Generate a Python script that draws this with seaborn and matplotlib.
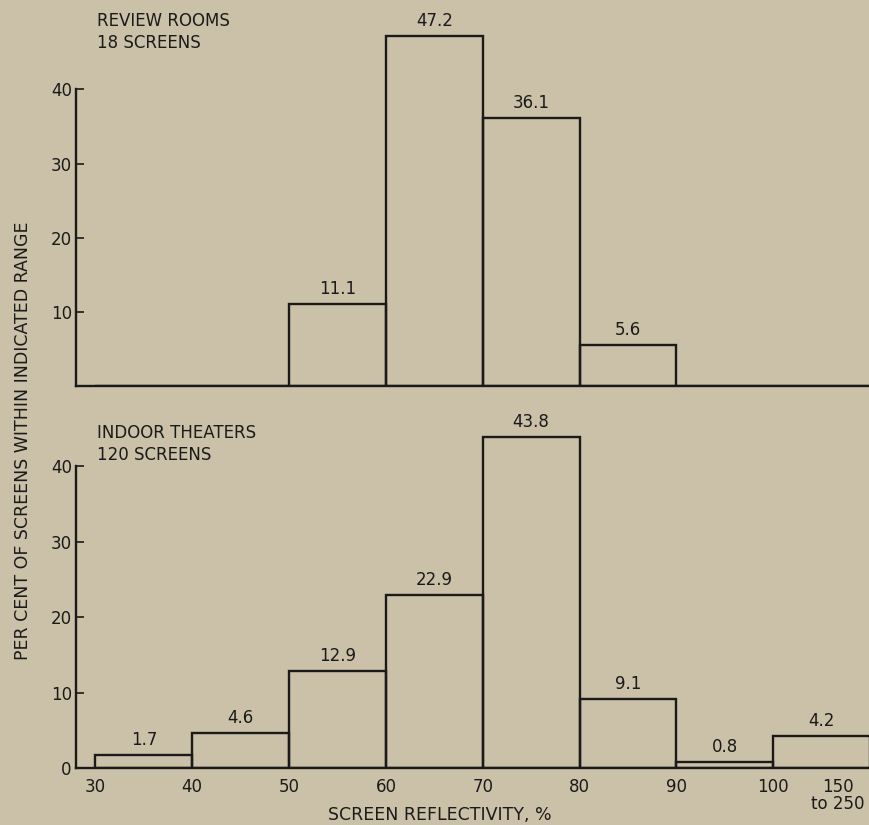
"""Screen reflectivity histograms: review rooms vs indoor theaters."""
import matplotlib
matplotlib.use("Agg")
import matplotlib.pyplot as plt
import numpy as np
import seaborn as sns

# bin edges (the last bin stands for "150 to 250")
bin_edges = [30, 40, 50, 60, 70, 80, 90, 100, 110]
bin_centers = [35, 45, 55, 65, 75, 85, 95, 105]

review_pct = [0, 0, 11.1, 47.2, 36.1, 5.6, 0, 0]
theater_pct = [1.7, 4.6, 12.9, 22.9, 43.8, 9.1, 0.8, 4.2]

x_tick_pos = [30, 40, 50, 60, 70, 80, 90, 100, 106.7]
x_tick_labels = ["30", "40", "50", "60", "70", "80", "90", "100", "150\nto 250"]

BG = "#cbc1a8"
INK = "#1a1a1a"
FS = 12

sns.set_style("white")
plt.rcParams["font.family"] = ["DejaVu Sans"]

fig = plt.figure(figsize=(8.7, 8.25), dpi=100, facecolor=BG)
ax_top = fig.add_axes([0.0874, 0.532, 0.9126, 0.436])
ax_bot = fig.add_axes([0.0874, 0.0691, 0.9126, 0.4436])


def draw_panel(ax, values, y_ticks, show_x):
    ax.set_facecolor(BG)
    sns.histplot(
        x=bin_centers, weights=values, bins=bin_edges, ax=ax,
        fill=False, element="bars", color=INK, linewidth=1.7,
    )
    for c, v in zip(bin_centers, values):
        if v > 0:
            ax.text(c, v + 0.8, f"{v:.1f}", ha="center", va="bottom",
                    fontsize=FS, color=INK)
    ax.set_xlim(28, 110)
    ax.set_ylim(0, 48.5)
    for side in ("top", "right"):
        ax.spines[side].set_visible(False)
    ax.spines["left"].set_bounds(0, 40)
    for side in ("left", "bottom"):
        ax.spines[side].set_color(INK)
        ax.spines[side].set_linewidth(1.7)
    ax.set_yticks(y_ticks)
    ax.tick_params(axis="y", direction="in", length=6, width=1.2,
                   labelsize=FS, colors=INK, pad=3, left=True)
    if show_x:
        ax.set_xticks(x_tick_pos)
        ax.set_xticklabels(x_tick_labels, fontsize=FS, color=INK,
                           linespacing=0.95, va="top")
        ax.tick_params(axis="x", length=0, pad=7)
    else:
        ax.set_xticks([])
    ax.set_xlabel("")
    ax.set_ylabel("")


draw_panel(ax_top, review_pct, [10, 20, 30, 40], show_x=False)
draw_panel(ax_bot, theater_pct, [0, 10, 20, 30, 40], show_x=True)

fig.text(97 / 870, 1 - 12 / 825, "REVIEW ROOMS\n18 SCREENS", ha="left", va="top",
         fontsize=FS, color=INK, linespacing=1.3)
fig.text(97 / 870, 1 - 424 / 825, "INDOOR THEATERS\n120 SCREENS", ha="left", va="top",
         fontsize=FS, color=INK, linespacing=1.3)

fig.text(0.026, 1 - 441 / 825, "PER CENT OF SCREENS WITHIN INDICATED RANGE",
         rotation=90, ha="center", va="center", fontsize=12.5, color=INK)
fig.text(440 / 870, 1 - 815 / 825, "SCREEN REFLECTIVITY, %", ha="center",
         va="center", fontsize=12.5, color=INK)

fig.savefig("out.png", dpi=100, facecolor=BG)
plt.close(fig)
